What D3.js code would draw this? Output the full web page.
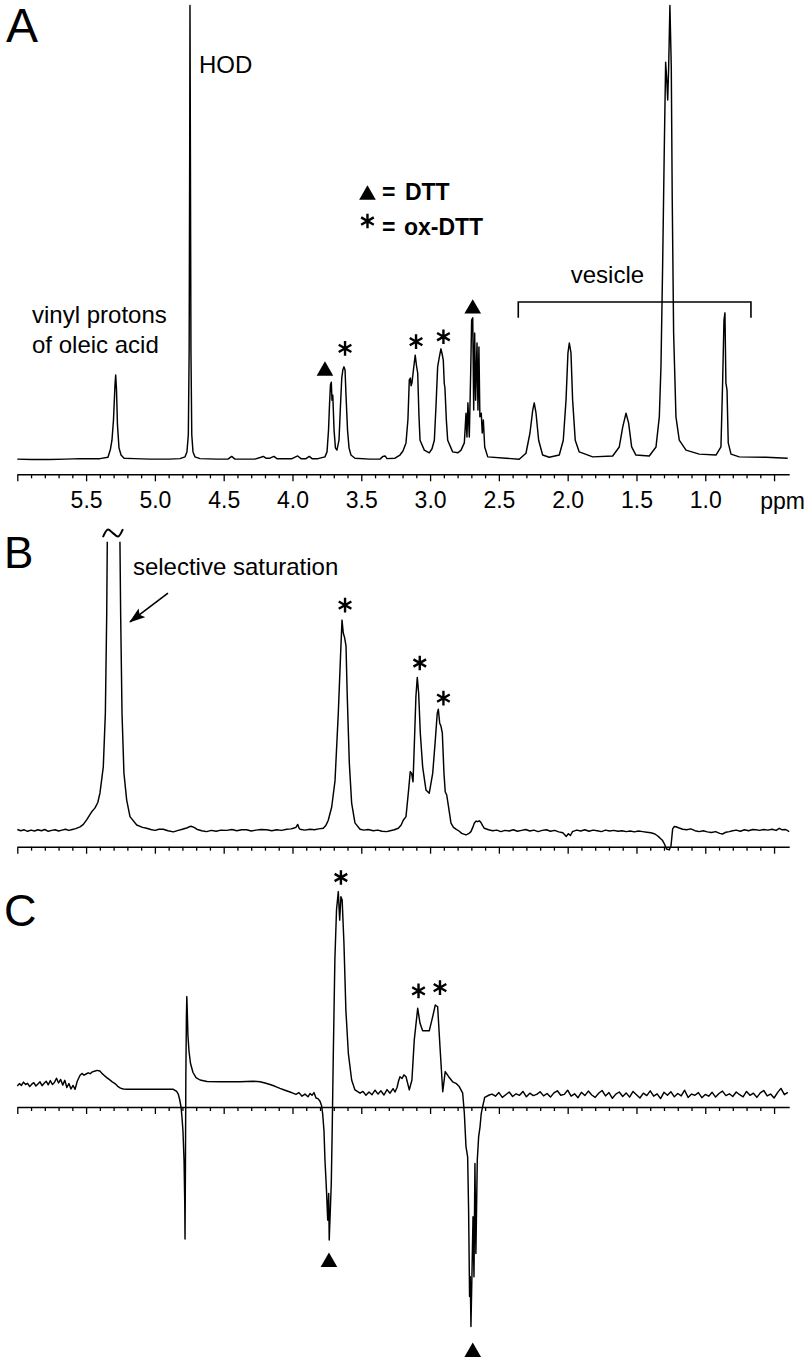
<!DOCTYPE html>
<html><head><meta charset="utf-8">
<script src="https://cdn.jsdelivr.net/npm/d3@7"></script>
<style>
html,body{margin:0;padding:0;background:#fff;}
svg{display:block;}
text{font-family:"Liberation Sans",Arial,Helvetica,sans-serif;fill:#000;}
</style>
</head><body>
<svg id="chart" width="812" height="1360"></svg>
<script>
// ---------------- data (ppm, intensity) ----------------
const majorTicks = [6.0,5.5,5.0,4.5,4.0,3.5,3.0,2.5,2.0,1.5,1.0,0.5];
const tickLabels = ["","5.5","5.0","4.5","4.0","3.5","3.0","2.5","2.0","1.5","1.0",""];
const minorTicks = [5.9,5.8,5.7,5.6,5.4,5.3,5.2,5.1,4.9,4.8,4.7,4.6,4.4,4.3,4.2,4.1,3.9,3.8,3.7,3.6,3.4,3.3,3.2,3.1,2.9,2.8,2.7,2.6,2.4,2.3,2.2,2.1,1.9,1.8,1.7,1.6,1.4,1.3,1.2,1.1,0.9,0.8,0.7,0.6];
const axisUnit = "ppm";

const specA = [[6.000,0.2],[5.900,0.1],[5.762,0.1],[5.650,0.2],[5.544,0.3],[5.450,0.3],[5.399,0.3],[5.341,0.6],[5.323,2.4],[5.312,4.4],[5.301,8.9],[5.290,16.7],[5.285,18.9],[5.279,15.6],[5.272,7.8],[5.261,2.7],[5.246,1.1],[5.224,0.4],[5.150,0.3],[5.036,0.2],[4.900,0.2],[4.818,0.3],[4.781,0.7],[4.767,1.8],[4.757,5.6],[4.751,24.4],[4.747,68.9],[4.745,101],[4.742,68.9],[4.738,24.4],[4.732,5.6],[4.723,1.8],[4.709,0.7],[4.672,0.3],[4.550,0.2],[4.469,0.2],[4.442,0.8],[4.418,0.2],[4.273,0.2],[4.229,0.6],[4.212,0.8],[4.193,0.4],[4.164,0.4],[4.135,0.8],[4.113,0.3],[4.004,0.3],[3.962,0.9],[3.938,0.3],[3.902,0.3],[3.878,0.8],[3.858,0.3],[3.815,0.3],[3.764,0.7],[3.749,1.8],[3.738,6.7],[3.731,12.2],[3.724,16.7],[3.718,17.3],[3.713,13.3],[3.707,14.4],[3.698,6.7],[3.688,2.7],[3.677,2.2],[3.662,4.4],[3.651,12.2],[3.642,18.2],[3.634,20.0],[3.626,20.7],[3.618,20.0],[3.611,14.4],[3.600,6.7],[3.589,2.7],[3.575,1.1],[3.546,0.4],[3.437,0.2],[3.364,0.2],[3.342,0.8],[3.327,0.9],[3.313,0.3],[3.255,0.4],[3.219,1.1],[3.197,2.0],[3.175,3.8],[3.161,9.0],[3.151,17.8],[3.143,18.2],[3.138,16.5],[3.132,17.1],[3.121,20.0],[3.108,23.3],[3.099,21.0],[3.090,19.3],[3.081,10.0],[3.073,4.4],[3.042,2.2],[3.006,1.6],[2.986,2.5],[2.969,4.4],[2.957,12.0],[2.945,20.7],[2.932,23.0],[2.921,24.7],[2.912,23.5],[2.904,22.2],[2.897,17.0],[2.892,16.0],[2.882,9.0],[2.872,4.4],[2.836,1.8],[2.797,1.6],[2.775,2.2],[2.751,3.8],[2.739,10.4],[2.732,5.1],[2.725,12.7],[2.715,5.1],[2.705,19.3],[2.698,31.1],[2.690,31.6],[2.683,11.1],[2.676,28.2],[2.669,13.3],[2.659,26.0],[2.652,11.1],[2.645,25.1],[2.638,9.6],[2.628,10.4],[2.621,6.0],[2.613,8.9],[2.603,2.9],[2.581,0.7],[2.449,0.4],[2.352,0.15],[2.303,1.5],[2.274,6.0],[2.254,11.1],[2.243,12.7],[2.230,10.4],[2.211,4.4],[2.182,1.1],[2.134,0.6],[2.061,1.1],[2.032,4.4],[2.012,13.3],[1.998,23.8],[1.988,26.0],[1.976,23.8],[1.964,13.3],[1.945,4.4],[1.916,1.8],[1.818,0.7],[1.673,0.9],[1.625,2.9],[1.600,7.3],[1.576,10.4],[1.557,8.2],[1.535,2.9],[1.504,1.1],[1.407,0.9],[1.358,2.9],[1.334,9.6],[1.322,20.7],[1.310,42.9],[1.298,68.9],[1.288,88.4],[1.281,85.1],[1.273,80.0],[1.266,87.3],[1.257,101],[1.247,87.3],[1.240,57.8],[1.230,28.2],[1.213,9.6],[1.189,4.4],[1.140,2.2],[1.044,1.3],[0.922,1.1],[0.886,2.9],[0.874,17.1],[0.864,31.1],[0.857,32.7],[0.850,17.1],[0.842,15.6],[0.833,3.8],[0.813,1.3],[0.753,0.7],[0.559,0.6],[0.401,0.4]];

const specB = [[6.000,0.5],[5.975,0.1],[5.950,0.4],[5.925,-0.1],[5.900,0.3],[5.875,0.0],[5.850,0.4],[5.825,0.1],[5.800,0.5],[5.775,-0.1],[5.750,0.2],[5.725,0.4],[5.700,0.0],[5.675,0.3],[5.650,0.6],[5.625,0.2],[5.600,0.5],[5.575,0.8],[5.544,1.4],[5.520,2.2],[5.496,3.7],[5.470,5.6],[5.459,6.4],[5.435,7.7],[5.415,9.5],[5.399,12.7],[5.375,21.4],[5.360,39.3],[5.350,72.7],[5.346,96.4],[5.300,null],[5.254,96.4],[5.249,72.7],[5.239,39.3],[5.225,19.3],[5.205,10.3],[5.181,4.8],[5.132,2.0],[5.090,1.2],[5.060,0.9],[5.030,0.5],[5.000,0.2],[4.970,0.6],[4.939,0.6],[4.905,0.1],[4.866,-0.3],[4.830,0.2],[4.800,0.6],[4.769,1.0],[4.738,1.6],[4.715,1.2],[4.696,0.6],[4.660,0.1],[4.624,-0.2],[4.590,0.2],[4.555,-0.1],[4.520,0.3],[4.478,0.2],[4.440,0.5],[4.405,0.1],[4.370,0.4],[4.333,0.4],[4.300,0.0],[4.265,0.3],[4.230,0.5],[4.188,0.4],[4.150,0.1],[4.115,0.4],[4.080,0.2],[4.042,0.6],[4.010,0.7],[3.994,0.9],[3.975,1.2],[3.962,2.2],[3.952,0.9],[3.945,0.6],[3.910,0.3],[3.873,0.6],[3.840,0.4],[3.810,0.7],[3.776,0.9],[3.758,1.8],[3.740,3.6],[3.715,8.0],[3.691,16.7],[3.667,39.3],[3.650,59.3],[3.640,70.3],[3.631,66.0],[3.621,64.4],[3.611,61.7],[3.602,45.0],[3.587,22.7],[3.570,9.3],[3.546,2.7],[3.509,0.6],[3.480,0.3],[3.450,0.5],[3.413,0.1],[3.380,0.3],[3.350,-0.1],[3.315,-0.2],[3.290,0.1],[3.260,0.4],[3.231,0.9],[3.210,2.0],[3.195,3.6],[3.175,4.8],[3.156,13.7],[3.144,19.8],[3.134,19.2],[3.124,16.4],[3.115,28.1],[3.103,44.8],[3.093,51.2],[3.083,45.9],[3.071,32.6],[3.054,21.4],[3.030,13.7],[3.006,12.6],[2.981,19.2],[2.962,30.3],[2.948,39.2],[2.940,40.6],[2.930,35.9],[2.921,35.0],[2.911,32.6],[2.899,19.2],[2.890,13.1],[2.879,12.0],[2.868,8.7],[2.848,2.6],[2.830,1.2],[2.812,0.6],[2.790,0.0],[2.770,-0.8],[2.739,-1.3],[2.720,-0.9],[2.703,-0.2],[2.690,1.2],[2.679,2.6],[2.665,3.3],[2.654,3.1],[2.642,3.4],[2.630,2.8],[2.618,1.8],[2.606,0.9],[2.575,0.4],[2.545,0.1],[2.515,0.3],[2.485,-0.2],[2.455,0.2],[2.425,0.0],[2.395,0.4],[2.365,-0.1],[2.335,0.2],[2.305,0.5],[2.275,0.0],[2.245,0.3],[2.215,-0.2],[2.185,0.2],[2.155,0.4],[2.125,-0.1],[2.095,0.2],[2.065,-0.3],[2.035,-0.6],[2.010,-1.8],[1.995,-0.9],[1.980,-1.5],[1.965,-0.2],[1.935,0.3],[1.905,0.0],[1.875,0.4],[1.845,-0.1],[1.815,0.3],[1.785,0.1],[1.755,-0.2],[1.725,0.3],[1.695,0.0],[1.665,0.2],[1.635,-0.1],[1.605,0.1],[1.575,-0.2],[1.545,0.0],[1.515,-0.3],[1.485,0.0],[1.455,-0.2],[1.425,-0.4],[1.395,-0.6],[1.371,-0.9],[1.350,-1.5],[1.330,-2.3],[1.310,-3.2],[1.295,-4.5],[1.281,-6.0],[1.262,-6.3],[1.249,-4.9],[1.237,0.7],[1.225,1.5],[1.213,1.4],[1.190,1.0],[1.164,0.6],[1.135,0.4],[1.105,0.7],[1.075,0.1],[1.044,-0.2],[1.015,0.1],[0.985,-0.3],[0.955,-0.5],[0.925,-0.2],[0.895,-0.8],[0.874,-1.0],[0.850,-0.4],[0.825,-0.2],[0.801,0.1],[0.775,0.3],[0.745,-0.1],[0.715,0.4],[0.685,0.1],[0.655,0.5],[0.632,0.4],[0.605,0.2],[0.575,0.5],[0.545,0.3],[0.515,0.6],[0.485,0.2],[0.462,0.9],[0.440,0.4],[0.415,0.5],[0.390,-0.2]];

const specC = [[6.000,7.0],[5.985,7.8],[5.970,7.2],[5.955,8.3],[5.940,7.5],[5.925,7.9],[5.910,6.8],[5.895,7.6],[5.880,8.1],[5.865,7.0],[5.850,7.7],[5.835,8.4],[5.820,7.1],[5.805,7.9],[5.790,8.6],[5.775,7.4],[5.760,8.8],[5.745,7.5],[5.730,8.2],[5.715,9.6],[5.700,8.0],[5.685,9.2],[5.670,7.3],[5.655,8.9],[5.640,6.5],[5.625,7.8],[5.610,6.0],[5.595,7.2],[5.580,5.9],[5.565,8.5],[5.545,10.5],[5.530,11.2],[5.515,10.6],[5.500,11.0],[5.485,11.4],[5.470,11.1],[5.455,11.7],[5.440,11.9],[5.420,12.2],[5.400,12.0],[5.385,11.2],[5.370,10.6],[5.350,9.8],[5.330,9.1],[5.310,8.4],[5.290,7.8],[5.270,6.9],[5.250,6.3],[5.230,6.0],[5.200,5.9],[5.100,5.9],[5.000,5.9],[4.900,5.9],[4.866,5.9],[4.842,5.2],[4.830,4.3],[4.820,2.5],[4.810,0.0],[4.803,-3.5],[4.796,-8.0],[4.788,-18.0],[4.783,-32.0],[4.781,-44.0],[4.778,-20.0],[4.775,10.0],[4.771,30.0],[4.768,36.8],[4.765,32.5],[4.760,24.0],[4.752,18.5],[4.741,14.5],[4.723,11.5],[4.701,9.8],[4.672,9.0],[4.621,8.5],[4.527,8.4],[4.381,8.4],[4.287,8.6],[4.236,8.4],[4.200,8.0],[4.163,7.5],[4.127,6.9],[4.091,6.2],[4.055,5.6],[4.018,5.0],[3.997,4.6],[3.975,4.2],[3.953,4.8],[3.931,3.6],[3.909,4.3],[3.887,3.4],[3.873,4.5],[3.858,3.9],[3.844,4.8],[3.829,3.0],[3.815,2.8],[3.800,1.9],[3.789,0.5],[3.781,-2.1],[3.771,-8.0],[3.764,-17.7],[3.757,-24.0],[3.752,-28.8],[3.744,-37.7],[3.737,-28.8],[3.733,-44.3],[3.725,-34.3],[3.718,-25.4],[3.711,-6.6],[3.704,15.7],[3.692,49.0],[3.680,65.7],[3.667,71.8],[3.657,62.3],[3.648,70.1],[3.639,69.0],[3.626,54.6],[3.612,32.3],[3.594,17.9],[3.570,9.0],[3.546,5.7],[3.509,4.6],[3.488,5.2],[3.466,3.9],[3.444,5.0],[3.422,4.1],[3.400,5.6],[3.378,4.3],[3.357,5.4],[3.335,4.0],[3.313,5.8],[3.291,4.6],[3.269,6.1],[3.255,5.0],[3.240,6.5],[3.230,8.5],[3.219,10.1],[3.204,9.5],[3.190,10.7],[3.175,10.1],[3.151,5.7],[3.132,9.0],[3.115,22.3],[3.090,32.9],[3.073,27.9],[3.054,25.4],[3.006,25.4],[2.981,30.1],[2.962,34.0],[2.945,33.4],[2.928,20.1],[2.908,5.1],[2.890,11.8],[2.865,10.1],[2.836,8.4],[2.812,7.9],[2.788,6.8],[2.763,4.6],[2.751,-2.1],[2.739,-13.2],[2.727,-16.6],[2.720,-34.3],[2.713,-63.2],[2.708,-56.6],[2.703,-73.2],[2.696,-56.6],[2.688,-36.6],[2.681,-56.6],[2.674,-18.8],[2.667,-48.8],[2.657,-17.7],[2.647,-9.9],[2.637,-6.6],[2.628,-2.1],[2.618,0.1],[2.603,3.2],[2.570,4.0],[2.550,4.3],[2.525,3.6],[2.500,4.8],[2.475,3.2],[2.450,4.1],[2.425,5.0],[2.400,3.5],[2.375,4.4],[2.350,3.9],[2.325,5.2],[2.300,3.4],[2.275,4.6],[2.250,3.8],[2.225,4.2],[2.200,5.1],[2.175,3.7],[2.150,4.5],[2.125,3.3],[2.100,4.7],[2.075,5.4],[2.050,3.9],[2.025,4.2],[2.000,5.6],[1.975,3.6],[1.950,4.4],[1.925,3.1],[1.900,4.9],[1.875,3.8],[1.850,5.3],[1.825,4.0],[1.800,3.2],[1.775,4.6],[1.750,5.5],[1.725,3.7],[1.700,4.8],[1.675,2.9],[1.650,4.3],[1.625,5.0],[1.600,3.5],[1.575,4.7],[1.550,3.3],[1.525,5.2],[1.500,4.1],[1.475,3.0],[1.450,4.6],[1.425,3.8],[1.400,5.4],[1.375,3.6],[1.350,4.4],[1.325,2.8],[1.300,4.9],[1.275,3.9],[1.250,5.1],[1.225,3.4],[1.200,4.5],[1.175,3.7],[1.150,5.6],[1.125,3.2],[1.100,4.3],[1.075,3.9],[1.050,4.8],[1.025,3.1],[1.000,4.2],[0.975,3.6],[0.950,4.9],[0.925,3.3],[0.900,4.5],[0.875,5.3],[0.850,3.8],[0.825,4.4],[0.800,3.5],[0.775,5.0],[0.750,4.1],[0.725,3.4],[0.700,5.2],[0.675,3.9],[0.650,4.6],[0.625,3.2],[0.600,4.7],[0.575,5.5],[0.550,3.7],[0.525,4.3],[0.500,3.0],[0.475,4.8],[0.450,6.2],[0.425,4.1],[0.400,4.9]];

// annotation markers: [ppm, intensity]
const triA = [[3.764,19.8],[2.690,33.6]];
const astA = [[3.618,24.8],[3.102,26.3],[2.903,27.4]];
const astB = [[3.618,75.3],[3.075,56.0],[2.903,44.3]];
const astC = [[3.648,76.5],[3.084,38.7],[2.928,39.8]];
const triC = [[3.735,-51.7],[2.690,-81.7]];
const vesicleBracket = [[2.359,31.6],[2.359,35.1],[0.668,35.1],[0.668,31.6]];
const arrowB = [[4.905,79.3],[5.181,69.7]];
const tildeB = [5.305,99.3];

// ---------------- drawing ----------------
const svg = d3.select("#chart");
svg.append("rect").attr("width",812).attr("height",1360).attr("fill","#fff");
const FONT = '"Liberation Sans",Arial,Helvetica,sans-serif';

const x = d3.scaleLinear().domain([6.0, 0.39]).range([17.3, 789.2]);
const yA = d3.scaleLinear().domain([0,100]).range([460,10]);
const yB = d3.scaleLinear().domain([0,100]).range([831,531]);
const yC = d3.scaleLinear().domain([-80,80]).range([1347,867]);

function drawAxis(yPos, withLabels){
  const gm = svg.append("g").attr("transform",`translate(0,${yPos})`)
    .call(d3.axisBottom(x).tickValues(minorTicks).tickSize(4).tickSizeOuter(0).tickFormat(""));
  gm.select(".domain").remove();
  gm.selectAll("line").attr("stroke","#000").attr("stroke-width",1.3);
  const g = svg.append("g").attr("transform",`translate(0,${yPos})`)
    .call(d3.axisBottom(x).tickValues(majorTicks).tickSize(7).tickSizeOuter(0).tickPadding(10)
      .tickFormat((d,i)=> withLabels ? tickLabels[i] : ""));
  g.attr("font-family",FONT).attr("font-size",23);
  g.select(".domain").attr("stroke","#000").attr("stroke-width",1.6);
  g.selectAll("line").attr("stroke","#000").attr("stroke-width",1.3);
  g.selectAll("text").attr("fill","#000");
  return g;
}

function drawSpec(data, yS){
  const line = d3.line().defined(d=>d[1]!==null).x(d=>x(d[0])).y(d=>yS(d[1]));
  svg.append("path").datum(data).attr("d",line)
    .attr("fill","none").attr("stroke","#000").attr("stroke-width",1.45)
    .attr("stroke-linejoin","round");
}

const triSym = d3.symbol().type(d3.symbolTriangle).size(120);
const astSym = d3.symbol().type(d3.symbolAsterisk).size(150);
function drawTri(pts, yS){
  svg.append("g").selectAll("path").data(pts).join("path")
    .attr("d",triSym).attr("fill","#000")
    .attr("transform",d=>`translate(${x(d[0])},${yS(d[1])})`);
}
function drawAst(pts, yS){
  svg.append("g").selectAll("path").data(pts).join("path")
    .attr("d",astSym).attr("fill","none").attr("stroke","#000").attr("stroke-width",2.4)
    .attr("transform",d=>`translate(${x(d[0])},${yS(d[1])})`);
}
function label(txt, ppm, val, yS, size, opts={}){
  return svg.append("text").attr("x",x(ppm)).attr("y",yS(val))
    .attr("font-size",size).attr("font-family",FONT)
    .attr("font-weight",opts.bold?"bold":"normal")
    .attr("text-anchor",opts.anchor||"start").text(txt);
}

// Panel A
drawAxis(474.3, true);
svg.append("text").attr("x",x(0.39)-29).attr("y",508.5).attr("font-size",23)
  .attr("font-family",FONT).text(axisUnit);
drawSpec(specA, yA);
drawTri(triA, yA);
drawAst(astA, yA);
svg.append("path").datum(vesicleBracket)
  .attr("d",d3.line().x(d=>x(d[0])).y(d=>yA(d[1])))
  .attr("fill","none").attr("stroke","#000").attr("stroke-width",1.6);
label("vesicle",1.711,39.3,yA,24,{anchor:"middle"});
label("HOD",4.680,86.0,yA,24);
label("vinyl protons",5.893,30.4,yA,24);
label("of oleic acid",5.893,23.8,yA,24);
// legend
drawTri([[3.455,58.9]], yA);
drawAst([[3.455,53.1]], yA);
label("=",3.350,57.8,yA,23,{bold:true});
label("DTT",3.183,57.8,yA,23,{bold:true});
label("=",3.350,50.0,yA,23,{bold:true});
label("ox-DTT",3.190,50.0,yA,23,{bold:true});
svg.append("text").attr("x",6).attr("y",42).attr("font-size",48).attr("font-family",FONT).text("A");

// Panel B
drawAxis(846.7, false);
drawSpec(specB, yB);
drawAst(astB, yB);
svg.append("defs").append("marker").attr("id","arrowhead")
  .attr("markerUnits","userSpaceOnUse").attr("markerWidth",18).attr("markerHeight",12)
  .attr("refX",15).attr("refY",5.5).attr("orient","auto")
  .append("path").attr("d","M0,0 L16,5.5 L0,11 L3,5.5 Z").attr("fill","#000");
svg.append("line")
  .attr("x1",x(arrowB[0][0])).attr("y1",yB(arrowB[0][1]))
  .attr("x2",x(arrowB[1][0])).attr("y2",yB(arrowB[1][1]))
  .attr("stroke","#000").attr("stroke-width",1.6).attr("marker-end","url(#arrowhead)");
label("selective saturation",5.160,85.3,yB,24);
{
  const cx = x(tildeB[0]), cy = yB(tildeB[1]);
  const offs = [[-10,4],[-5,-3.5],[0,0],[5,3.5],[10,-4]];
  svg.append("path").datum(offs)
    .attr("d",d3.line().curve(d3.curveCatmullRom).x(d=>cx+d[0]).y(d=>cy+d[1]))
    .attr("fill","none").attr("stroke","#000").attr("stroke-width",2);
}
svg.append("text").attr("x",4).attr("y",568).attr("font-size",44).attr("font-family",FONT).text("B");

// Panel C
drawAxis(yC(0), false);
drawSpec(specC, yC);
drawAst(astC, yC);
drawTri(triC, yC);
svg.append("text").attr("x",4).attr("y",926).attr("font-size",45).attr("font-family",FONT).text("C");
</script>
</body></html>
